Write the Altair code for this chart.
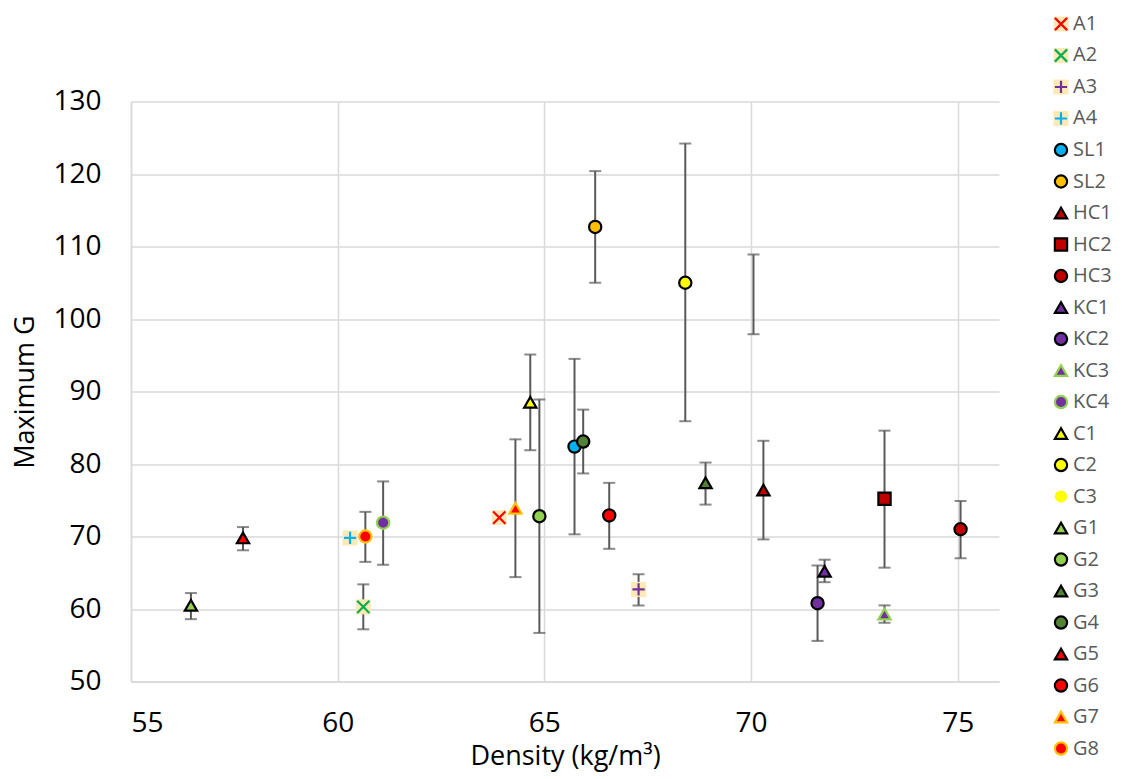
import altair as alt
import pandas as pd

names = ["A1", "A2", "A3", "A4", "SL1", "SL2", "HC1", "HC2", "HC3", "KC1", "KC2", "KC3",
         "KC4", "C1", "C2", "C3", "G1", "G2", "G3", "G4", "G5", "G6", "G7", "G8"]
density = [63.91, 60.62, 67.28, 60.30, 65.73, 66.23, 70.30, 73.23, 75.07, 71.78, 71.61, 73.23,
           61.10, 64.66, 68.41, 70.06, 56.45, 64.88, 68.90, 65.94, 57.71, 66.57, 64.30, 60.67]
max_g = [72.6, 60.3, 62.7, 69.8, 82.4, 112.7, 76.4, 75.2, 71.0, 65.2, 60.8, 59.3,
         71.9, 88.5, 105.0, 103.4, 60.5, 72.8, 77.4, 83.1, 69.8, 72.9, 73.9, 70.0]
err_lo = [None, 57.2, 60.5, None, 70.3, 105.0, 69.6, 65.7, 67.0, 63.7, 55.6, 58.1,
          66.1, 81.9, 85.9, 97.9, 58.6, 56.7, 74.4, 78.7, 68.1, 68.3, 64.4, 66.5]
err_hi = [None, 63.4, 64.8, None, 94.5, 120.4, 83.2, 84.6, 74.9, 66.8, 66.0, 60.5,
          77.6, 95.1, 124.2, 108.9, 62.2, 88.9, 80.2, 87.5, 71.3, 77.4, 83.4, 73.4]
x_ticks = [55, 60, 65, 70, 75]
y_ticks = [50, 60, 70, 80, 90, 100, 110, 120, 130]

# styles
XPATH = "M-1,-1L1,1M-1,1L1,-1"
PPATH = "M-1,0L1,0M0,-1L0,1"
TRI = "triangle-up"
shapes = [XPATH, XPATH, PPATH, PPATH, "circle", "circle", TRI, "square", "circle", TRI, "circle", TRI,
          "circle", TRI, "circle", "circle", TRI, "circle", TRI, "circle", TRI, "circle", TRI, "circle"]
NONE = "transparent"
fills = [NONE, NONE, NONE, NONE, "#00B0F0", "#FFC000", "#C00000", "#C00000", "#C00000", "#7030A0",
         "#7030A0", "#7030A0", "#7030A0", "#FFFF00", "#FFFF00", "#FFFF00", "#92D050", "#92D050",
         "#548235", "#548235", "#FF0000", "#FF0000", "#FF0000", "#FF0000"]
BK = "#000000"
strokes = ["#FF0000", "#00B050", "#7030A0", "#00B0F0", BK, BK, BK, BK, BK, BK, BK, "#92D050",
           "#92D050", BK, BK, NONE, BK, BK, BK, BK, BK, BK, "#FFC000", "#FFC000"]
sizes = [150 if s in (XPATH, PPATH) else (220 if s == TRI else (150 if s == "square" else 175)) for s in shapes]
sizes[names.index("C3")] = 80

df = pd.DataFrame({"name": names, "density": density, "maxg": max_g, "lo": err_lo, "hi": err_hi})
df["bg"] = df["name"].str.startswith("A")

FONT = "Open Sans"
xscale = alt.Scale(domain=[55, 76], nice=False, zero=False)
yscale = alt.Scale(domain=[50, 130], nice=False, zero=False)
xaxis = alt.Axis(values=x_ticks, title="Density (kg/m³)", grid=True, ticks=False, tickSize=0,
                 labelPadding=28, titlePadding=6, labelFontSize=28, titleFontSize=27,
                 labelFont=FONT, titleFont=FONT, labelColor="#000000", titleColor="#000000",
                 titleFontWeight="normal", gridColor="#D9D9D9", gridWidth=1.5,
                 domainColor="#D9D9D9", domainWidth=1.5)
yaxis = alt.Axis(values=y_ticks, title="Maximum G", grid=True, ticks=False, tickSize=0,
                 labelPadding=30, titlePadding=13, labelFontSize=28, titleFontSize=27,
                 labelFont=FONT, titleFont=FONT, labelColor="#000000", titleColor="#000000",
                 titleFontWeight="normal", gridColor="#D9D9D9", gridWidth=1.5,
                 domainColor="#D9D9D9", domainWidth=1.5)

X = alt.X("density:Q", scale=xscale, axis=xaxis)
def Y(f):
    return alt.Y(f"{f}:Q", scale=yscale, axis=yaxis)

shape_enc = alt.Shape("name:N", scale=alt.Scale(domain=names, range=shapes), legend=None)
fill_enc = alt.Fill("name:N", scale=alt.Scale(domain=names, range=fills), legend=None)
stroke_enc = alt.Stroke("name:N", scale=alt.Scale(domain=names, range=strokes), legend=None)
size_enc = alt.Size("name:N", scale=alt.Scale(domain=names, range=sizes), legend=None)

base = alt.Chart(df)
errs = base.transform_filter("datum.lo != null")
rule = errs.mark_rule(color="#595959", strokeWidth=2).encode(x=X, y=Y("lo"), y2="hi:Q")
cap_lo = errs.mark_tick(orient="horizontal", size=12, thickness=2, color="#595959").encode(x=X, y=Y("lo"))
cap_hi = errs.mark_tick(orient="horizontal", size=12, thickness=2, color="#595959").encode(x=X, y=Y("hi"))
bgsq = base.transform_filter("datum.bg").mark_square(size=225, color="#FDE9B6", opacity=1).encode(x=X, y=Y("maxg"))
pts = base.transform_filter("datum.name != 'C3'").mark_point(filled=True, strokeWidth=2.2, opacity=1).encode(
    x=X, y=Y("maxg"), shape=shape_enc, fill=fill_enc, stroke=stroke_enc, size=size_enc)

main = alt.layer(rule, cap_lo, cap_hi, bgsq, pts).properties(width=868, height=580)

# legend panel
ldf = pd.DataFrame({"name": names, "sx": [0] * len(names)})
ldf["bg"] = ldf["name"].str.startswith("A")
LX = alt.X("sx:Q", scale=alt.Scale(domain=[0, 1]), axis=None)
LY = alt.Y("name:N", sort=names, scale=alt.Scale(type="point", padding=0.61, align=0.364), axis=None)
lbase = alt.Chart(ldf)
lbg = lbase.transform_filter("datum.bg").mark_square(size=225, color="#FDE9B6", opacity=1).encode(x=LX, y=LY)
lpts = lbase.mark_point(filled=True, strokeWidth=2.2, opacity=1).encode(
    x=LX, y=LY, shape=shape_enc, fill=fill_enc, stroke=stroke_enc, size=size_enc)
ltxt = lbase.mark_text(align="left", baseline="middle", dx=12, font=FONT, fontSize=20, color="#595959").encode(
    x=LX, y=LY, text="name:N")
legend = alt.layer(lbg, lpts, ltxt).properties(width=40, height=763)

chart = alt.hconcat(main, legend, spacing=62, bounds="flush", center=True).resolve_scale(
    shape="shared", fill="shared", stroke="shared", size="shared"
).properties(
    padding={"left": 3, "top": 2, "right": 0, "bottom": 0}
).configure(background="white").configure_view(strokeWidth=0, stroke="transparent")

chart.save("out.html", embed_options={"renderer": "svg", "actions": False})
